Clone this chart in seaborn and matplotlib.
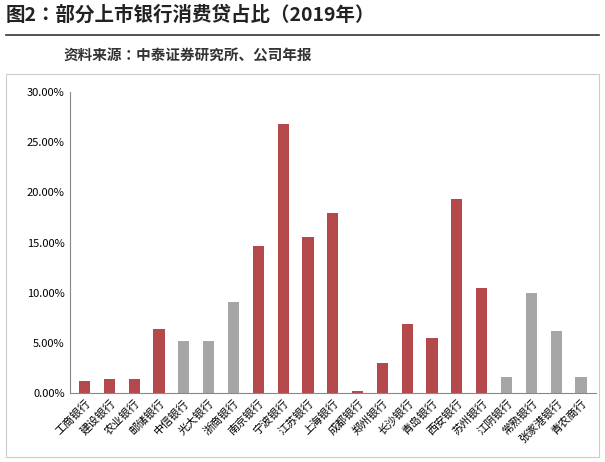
import matplotlib
matplotlib.use("Agg")
import matplotlib.pyplot as plt
from matplotlib import font_manager
import seaborn as sns
import pandas as pd
from matplotlib.ticker import PercentFormatter

# CJK-Schrift suchen, notfalls über den Dateinamen
cjk = [f for f in font_manager.fontManager.ttflist if "CJK" in f.name]
if cjk:
    sc = [f for f in cjk if "SC" in f.name]
    plt.rcParams["font.family"] = (sc or cjk)[0].name
else:
    for path in font_manager.findSystemFonts():
        if "CJK" in path:
            font_manager.fontManager.addfont(path)
            plt.rcParams["font.family"] = font_manager.FontProperties(fname=path).get_name()
            break

banks = ["工商银行", "建设银行", "农业银行", "邮储银行", "中信银行", "光大银行", "浙商银行",
         "南京银行", "宁波银行", "江苏银行", "上海银行", "成都银行", "郑州银行", "长沙银行",
         "青岛银行", "西安银行", "苏州银行", "江阴银行", "常熟银行", "张家港银行", "青农商行"]
ratio = [1.2, 1.4, 1.4, 6.4, 5.2, 5.2, 9.1, 14.7, 26.8, 15.6, 18.0, 0.2, 3.0, 6.9,
         5.5, 19.4, 10.5, 1.6, 10.0, 6.2, 1.6]
group = ["红", "红", "红", "红", "灰", "灰", "灰", "红", "红", "红", "红", "红", "红", "红",
         "红", "红", "红", "灰", "灰", "灰", "灰"]

df = pd.DataFrame({"bank": banks, "ratio": ratio, "group": group})
palette = {"红": "#b5484a", "灰": "#a6a6a6"}

fig = plt.figure(figsize=(6.05, 4.62), dpi=100)
fig.text(0.01, 0.955, "图2：部分上市银行消费贷占比（2019年）", fontsize=14, fontweight="bold", color="#222222")
fig.add_artist(plt.Line2D([0.01, 0.99], [0.925, 0.925], color="#333333", lw=1.2))
fig.text(0.105, 0.87, "资料来源：中泰证券研究所、公司年报", fontsize=10.5, fontweight="bold", color="#333333")

# heller Rahmen um den Diagrammbereich
fig.add_artist(plt.Rectangle((0.01, 0.01), 0.98, 0.83, fill=False, ec="#cccccc", lw=0.8))

ax = fig.add_axes([0.115, 0.15, 0.87, 0.65])
sns.barplot(data=df, x="bank", y="ratio", hue="group", palette=palette, dodge=False,
            width=0.45, saturation=1, legend=False, ax=ax)
ax.set_ylim(0, 30)
ax.set_yticks(range(0, 31, 5))
ax.yaxis.set_major_formatter(PercentFormatter(decimals=2))
ax.set_xlabel("")
ax.set_ylabel("")
ax.tick_params(axis="y", labelsize=8, length=0)
ax.tick_params(axis="x", labelsize=8, length=0)
plt.setp(ax.get_xticklabels(), rotation=45, ha="right", rotation_mode="anchor")
for s in ["top", "right"]:
    ax.spines[s].set_visible(False)
ax.spines["left"].set_color("#888888")
ax.spines["bottom"].set_color("#888888")
ax.set_xlim(-0.6, len(banks) - 0.4)

fig.savefig("out.png", dpi=100)
